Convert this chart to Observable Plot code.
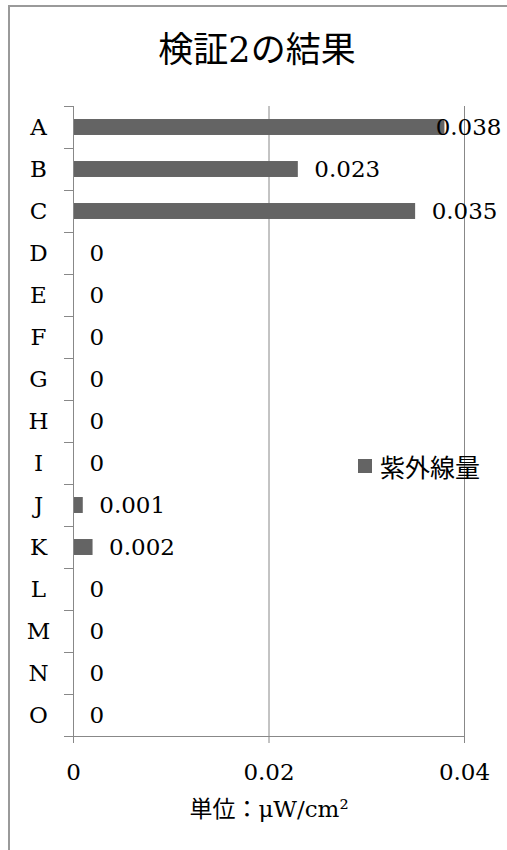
<!DOCTYPE html>
<html>
<head>
<meta charset="utf-8">
<script src="https://cdn.jsdelivr.net/npm/d3@7"></script>
<script src="https://cdn.jsdelivr.net/npm/@observablehq/plot@0.6"></script>
<style>
  html, body { margin: 0; padding: 0; background: #fff; overflow: hidden; }
  #page { position: relative; width: 507px; height: 850px; }
  #frame {
    position: absolute; left: 8px; top: 5px; width: 700px; height: 900px;
    border-left: 2px solid #9a9a9a; border-top: 2px solid #9a9a9a;
  }
  #title {
    position: relative; height: 90px; width: 514px;
    font-family: "DejaVu Serif", "Noto Sans CJK JP", serif;
    font-size: 35px; line-height: 100px; text-align: center; color: #000;
  }
  #legend {
    position: absolute; left: 358px; top: 448px;
    font-family: "Noto Sans CJK JP", sans-serif; font-size: 25px; color: #000;
    display: flex; align-items: center; white-space: nowrap;
  }
  #legend .swatch { width: 14px; height: 14px; background: #646464; margin-right: 8px; }
  #chart { position: relative; }
  #chart svg { display: block; }
</style>
</head>
<body>
<div id="page">
  <div id="frame"></div>
  <div id="title"></div>
  <div id="chart"></div>
  <div id="legend"><span class="swatch"></span><span id="legend-text"></span></div>
</div>
<script>
// Chart text
const title = "検証2の結果";
const seriesName = "紫外線量";
const xLabel = "単位：μW/cm²";

// Categories (top to bottom) and measured UV amounts
const categories = ["A", "B", "C", "D", "E", "F", "G", "H", "I", "J", "K", "L", "M", "N", "O"];
const values = [0.038, 0.023, 0.035, 0, 0, 0, 0, 0, 0, 0.001, 0.002, 0, 0, 0, 0];

// Value axis ticks
const xTicks = [0, 0.02, 0.04];
const xDomain = [0, 0.04];

// Value labels beyond this point are pulled back inside the chart edge
const labelLimit = 0.036;

const data = categories.map((category, index) => ({category, index, value: values[index]}));

document.getElementById("title").textContent = title;
document.getElementById("legend-text").textContent = seriesName;

const grid = "#888";
const barColor = "#646464";

const chart = Plot.plot({
  width: 507,
  height: 760,
  marginLeft: 73,
  marginRight: 43,
  marginTop: 16,
  marginBottom: 114,
  style: {
    fontFamily: "'DejaVu Serif', 'Noto Sans CJK JP', serif",
    fontSize: "23px",
    color: "#000",
    background: "transparent",
    overflow: "visible"
  },
  x: {type: "linear", domain: xDomain},
  y: {type: "linear", domain: [0, categories.length], reverse: true},
  marks: [
    Plot.ruleX(xTicks.filter(t => t > 0), {stroke: grid}),
    Plot.rectX(data, {
      x1: 0,
      x2: "value",
      y1: d => d.index + 0.31,
      y2: d => d.index + 0.69,
      fill: barColor
    }),
    Plot.ruleX([0], {stroke: grid}),
    Plot.ruleY([categories.length], {stroke: grid}),
    Plot.axisX({
      ticks: xTicks, tickSize: 7, tickPadding: 20,
      tickFormat: d => String(d), stroke: grid, label: null
    }),
    // category boundary ticks
    Plot.axisY({
      ticks: d3.range(categories.length + 1), tickSize: 9,
      tickFormat: () => "", stroke: grid, label: null
    }),
    // category names
    Plot.axisY({
      ticks: categories.map((c, i) => i + 0.5), tickSize: 0, tickPadding: 35,
      textAnchor: "middle", tickFormat: v => categories[Math.floor(v)], label: null
    }),
    Plot.text(data.filter(d => d.value <= labelLimit), {
      x: "value", y: d => d.index + 0.5, text: d => String(d.value),
      dx: 16, textAnchor: "start", fill: "#000"
    }),
    Plot.text(data.filter(d => d.value > labelLimit), {
      frameAnchor: "right", y: d => d.index + 0.5, text: d => String(d.value),
      dx: 37, textAnchor: "end", fill: "#000"
    }),
    Plot.text([xLabel], {
      frameAnchor: "bottom", dy: 80, text: d => d, fontSize: 23, fill: "#000"
    })
  ]
});

document.getElementById("chart").appendChild(chart);
</script>
</body>
</html>
